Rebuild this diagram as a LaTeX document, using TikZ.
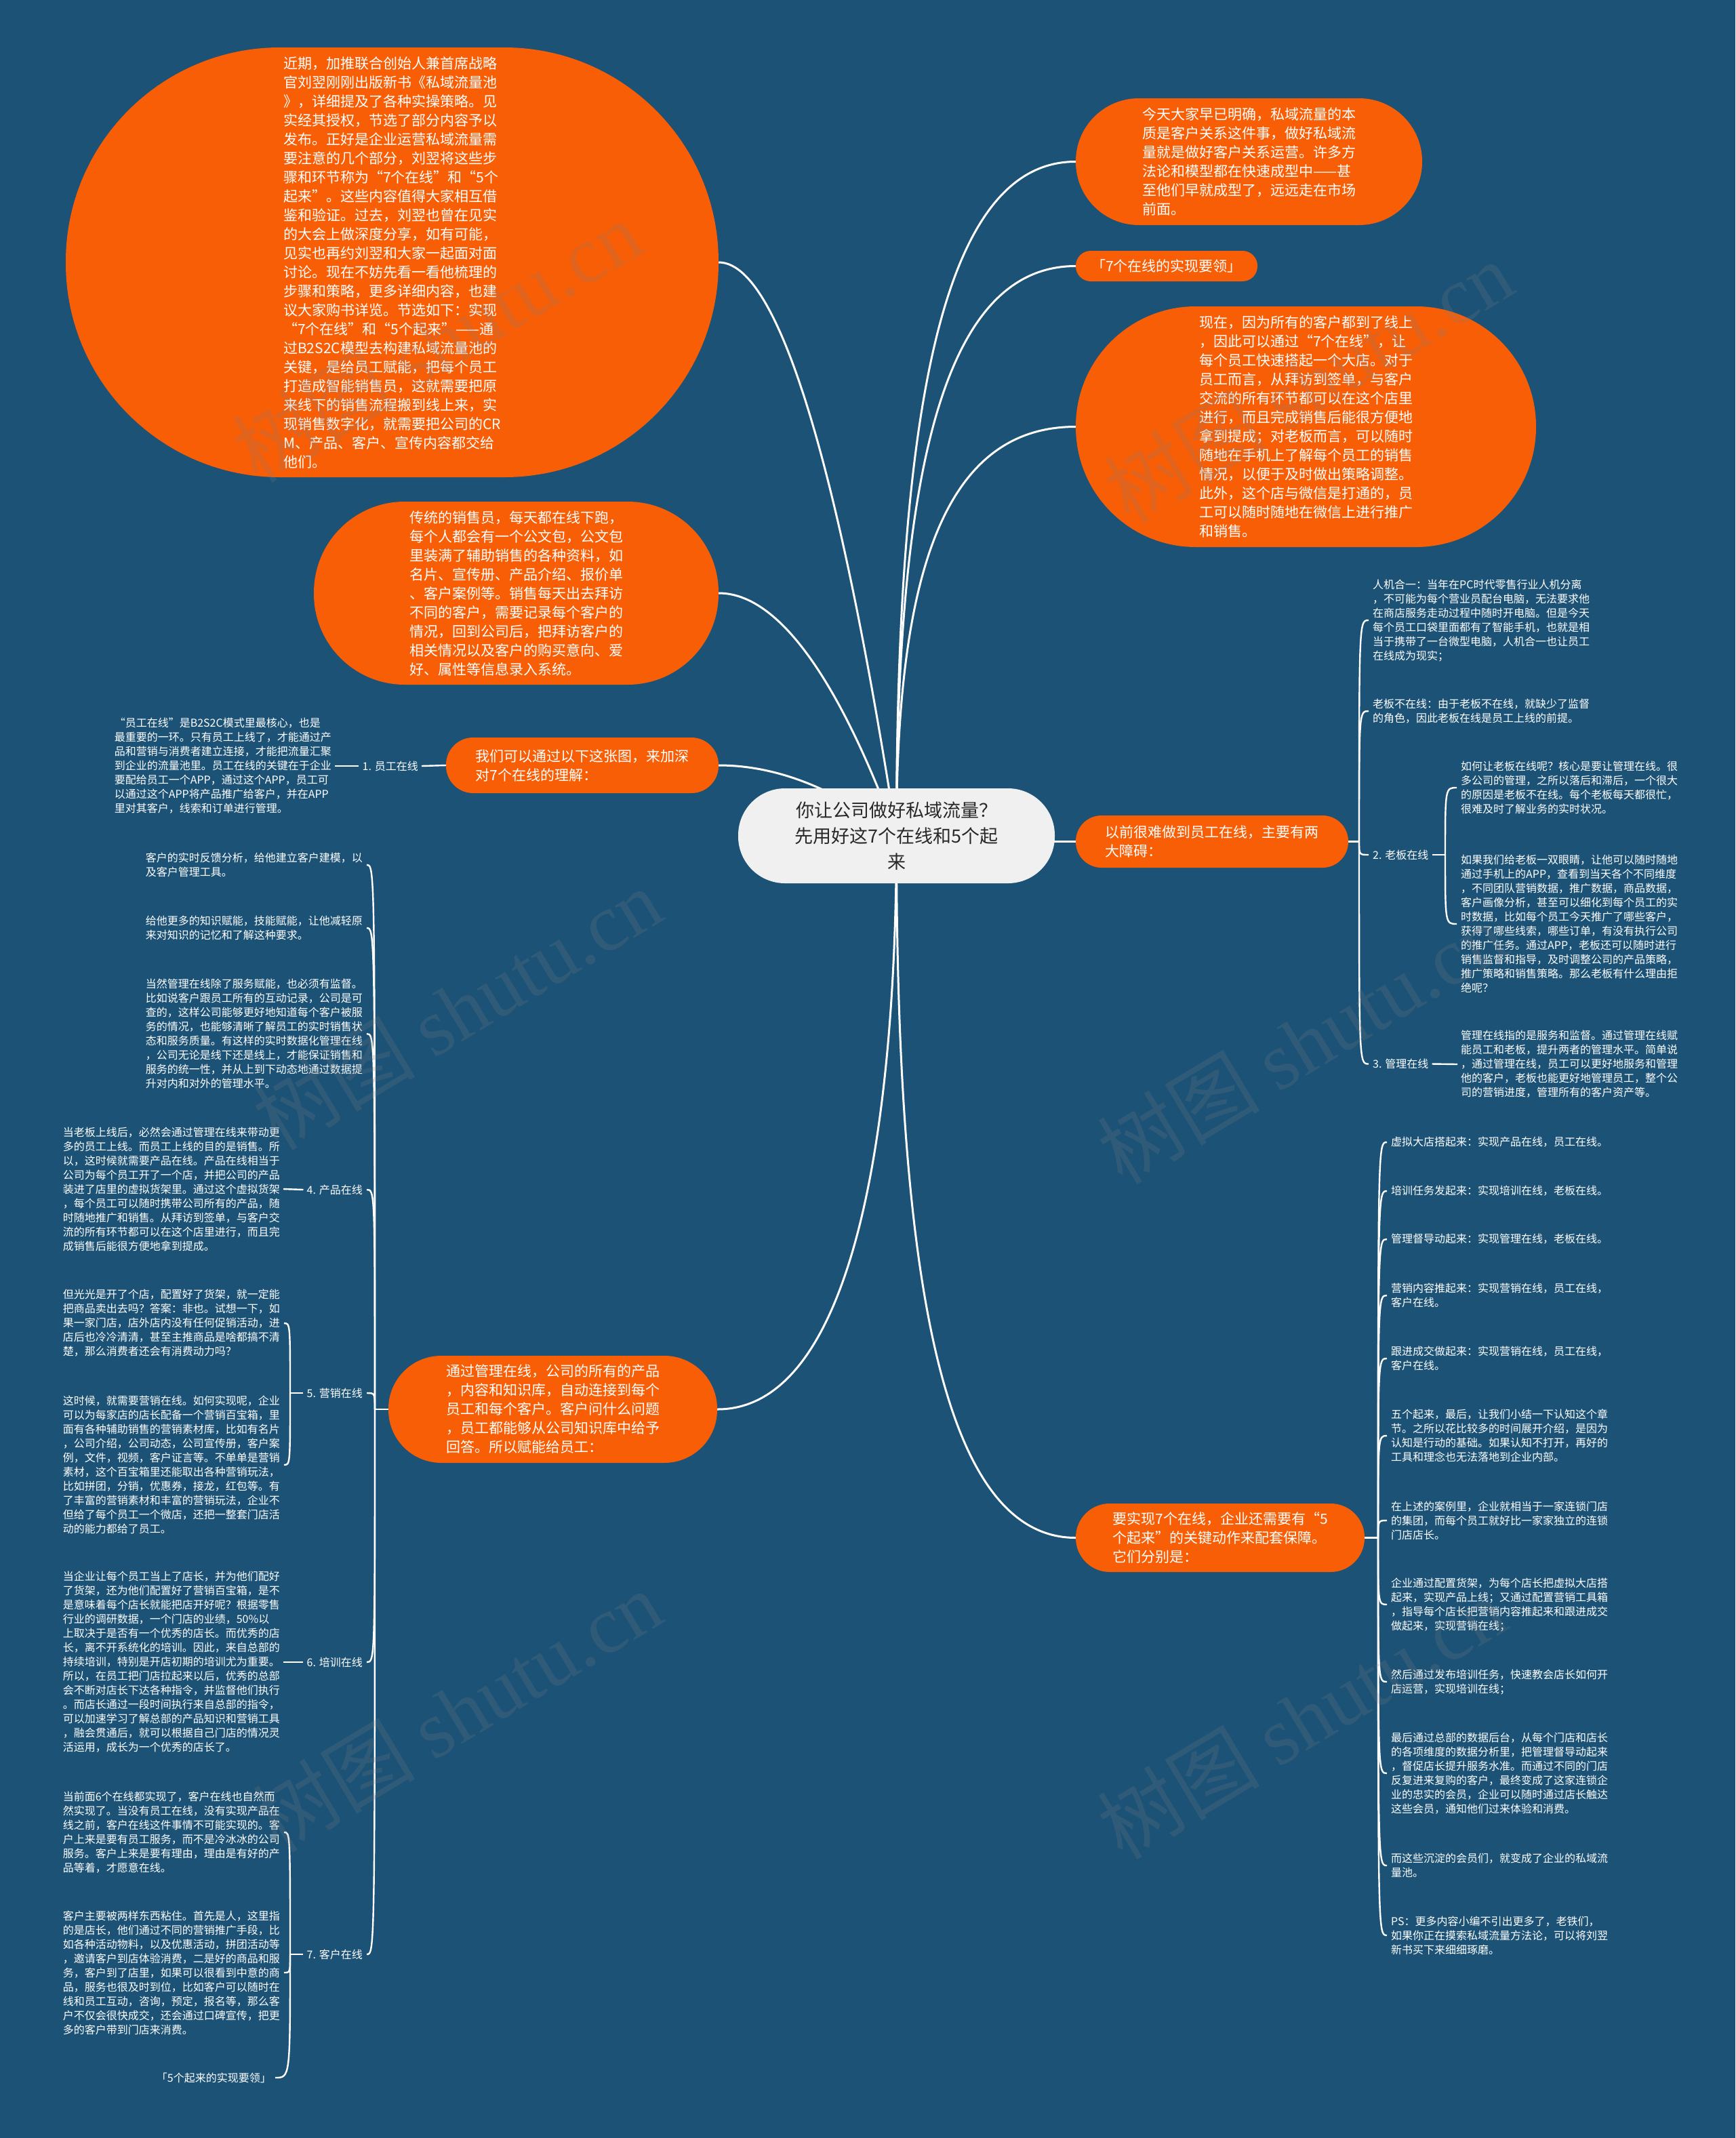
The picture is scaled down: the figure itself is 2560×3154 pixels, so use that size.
\documentclass[tikz,border=0pt]{standalone}
\usepackage{fontspec}
\setmainfont{Noto Sans CJK SC}
\newfontfamily\wmlatin{Liberation Serif}
\usetikzlibrary{calc,backgrounds}
\definecolor{bgblue}{RGB}{27,82,118}
\definecolor{orng}{RGB}{248,94,5}
\definecolor{rootfill}{RGB}{240,240,240}
\definecolor{roottext}{RGB}{40,40,40}
\tikzset{
  obox/.style={fill=orng, text=white, font=\fontsize{21}{28}\selectfont, align=left, inner sep=0pt},
  rbox/.style={fill=rootfill, text=roottext, font=\fontsize{27}{38}\selectfont, align=center, inner sep=0pt},
  leaf/.style={text=white, font=\fontsize{16}{21}\selectfont, align=left, inner sep=0pt},
  link/.style={draw=white, line width=3pt},
  twig/.style={draw=white, line width=2.4pt},
  wm/.style={text=gray, text opacity=0.2, rotate=31, font=\fontsize{120}{120}\selectfont}
}
\begin{document}
\begin{tikzpicture}[x=1pt,y=-1pt]
\useasboundingbox (0,0) rectangle (2560,3154);

% ---------- main nodes ----------
\node[obox, minimum width=963pt, minimum height=634pt, rounded corners=316pt] (intro) at (578.5,387) {近期，加推联合创始人兼首席战略\\官刘翌刚刚出版新书《私域流量池\\》，详细提及了各种实操策略。见\\实经其授权，节选了部分内容予以\\发布。正好是企业运营私域流量需\\要注意的几个部分，刘翌将这些步\\骤和环节称为“7个在线”和“5个\\起来”。这些内容值得大家相互借\\鉴和验证。过去，刘翌也曾在见实\\的大会上做深度分享，如有可能，\\见实也再约刘翌和大家一起面对面\\讨论。现在不妨先看一看他梳理的\\步骤和策略，更多详细内容，也建\\议大家购书详览。节选如下：实现\\“7个在线”和“5个起来”——通\\过B2S2C模型去构建私域流量池的\\关键，是给员工赋能，把每个员工\\打造成智能销售员，这就需要把原\\来线下的销售流程搬到线上来，实\\现销售数字化，就需要把公司的CR\\M、产品、客户、宣传内容都交给\\他们。};

\node[obox, minimum width=511pt, minimum height=187pt, rounded corners=93pt] (jintian) at (1842.5,238.5) {今天大家早已明确，私域流量的本\\质是客户关系这件事，做好私域流\\量就是做好客户关系运营。许多方\\法论和模型都在快速成型中——甚\\至他们早就成型了，远远走在市场\\前面。};

\node[obox, minimum width=268pt, minimum height=45pt, rounded corners=22pt] (qige) at (1721,392.5) {「7个在线的实现要领」};

\node[obox, minimum width=679pt, minimum height=355pt, rounded corners=177pt] (xianzai) at (1926.5,629.5) {现在，因为所有的客户都到了线上\\，因此可以通过“7个在线”，让\\每个员工快速搭起一个大店。对于\\员工而言，从拜访到签单，与客户\\交流的所有环节都可以在这个店里\\进行，而且完成销售后能很方便地\\拿到提成；对老板而言，可以随时\\随地在手机上了解每个员工的销售\\情况，以便于及时做出策略调整。\\此外，这个店与微信是打通的，员\\工可以随时随地在微信上进行推广\\和销售。};

\node[obox, minimum width=597pt, minimum height=270pt, rounded corners=134pt] (chuantong) at (761.5,875) {传统的销售员，每天都在线下跑，\\每个人都会有一个公文包，公文包\\里装满了辅助销售的各种资料，如\\名片、宣传册、产品介绍、报价单\\、客户案例等。销售每天出去拜访\\不同的客户，需要记录每个客户的\\情况，回到公司后，把拜访客户的\\相关情况以及客户的购买意向、爱\\好、属性等信息录入系统。};

\node[obox, minimum width=402pt, minimum height=82pt, rounded corners=40pt] (women) at (859,1129) {我们可以通过以下这张图，来加深\\对7个在线的理解：};

\node[rbox, minimum width=467pt, minimum height=140pt, rounded corners=69pt] (root) at (1322.5,1233) {你让公司做好私域流量？\\先用好这7个在线和5个起\\来};

\node[obox, minimum width=402pt, minimum height=77pt, rounded corners=38pt] (yiqian) at (1788,1241.5) {以前很难做到员工在线，主要有两\\大障碍：};

\node[obox, minimum width=485pt, minimum height=158pt, rounded corners=78pt] (guanli) at (815.5,2079) {通过管理在线，公司的所有的产品\\，内容和知识库，自动连接到每个\\员工和每个客户。客户问什么问题\\，员工都能够从公司知识库中给予\\回答。所以赋能给员工：};

\node[obox, minimum width=426pt, minimum height=101pt, rounded corners=50pt] (yaoshi) at (1800,2268.5) {要实现7个在线，企业还需要有“5\\个起来”的关键动作来配套保障。\\它们分别是：};

% ---------- right upper leaves ----------
\node[leaf, anchor=west] (renji) at (2025,915) {人机合一：当年在PC时代零售行业人机分离\\，不可能为每个营业员配台电脑，无法要求他\\在商店服务走动过程中随时开电脑。但是今天\\每个员工口袋里面都有了智能手机，也就是相\\当于携带了一台微型电脑，人机合一也让员工\\在线成为现实；};
\node[leaf, anchor=west] (lbbz) at (2025,1049) {老板不在线：由于老板不在线，就缺少了监督\\的角色，因此老板在线是员工上线的前提。};
\node[leaf, anchor=west] (ltwo) at (2025,1261) {2. 老板在线};
\node[leaf, anchor=west] (ruhe) at (2155,1162) {如何让老板在线呢？核心是要让管理在线。很\\多公司的管理，之所以落后和滞后，一个很大\\的原因是老板不在线。每个老板每天都很忙，\\很难及时了解业务的实时状况。};
\node[leaf, anchor=west] (ruguo) at (2155,1363) {如果我们给老板一双眼睛，让他可以随时随地\\通过手机上的APP，查看到当天各个不同维度\\，不同团队营销数据，推广数据，商品数据，\\客户画像分析，甚至可以细化到每个员工的实\\时数据，比如每个员工今天推广了哪些客户，\\获得了哪些线索，哪些订单，有没有执行公司\\的推广任务。通过APP，老板还可以随时进行\\销售监督和指导，及时调整公司的产品策略，\\推广策略和销售策略。那么老板有什么理由拒\\绝呢？};
\node[leaf, anchor=west] (lthree) at (2025,1569.5) {3. 管理在线};
\node[leaf, anchor=west] (glzx) at (2155,1570) {管理在线指的是服务和监督。通过管理在线赋\\能员工和老板，提升两者的管理水平。简单说\\，通过管理在线，员工可以更好地服务和管理\\他的客户，老板也能更好地管理员工，整个公\\司的营销进度，管理所有的客户资产等。};

% ---------- right lower leaves ----------
\node[leaf, anchor=west] (ra) at (2052,1685) {虚拟大店搭起来：实现产品在线，员工在线。};
\node[leaf, anchor=west] (rb) at (2052,1757) {培训任务发起来：实现培训在线，老板在线。};
\node[leaf, anchor=west] (rc) at (2052,1828) {管理督导动起来：实现管理在线，老板在线。};
\node[leaf, anchor=west] (rd) at (2052,1911) {营销内容推起来：实现营销在线，员工在线，\\客户在线。};
\node[leaf, anchor=west] (re) at (2052,2004) {跟进成交做起来：实现营销在线，员工在线，\\客户在线。};
\node[leaf, anchor=west] (rf) at (2052,2118) {五个起来，最后，让我们小结一下认知这个章\\节。之所以花比较多的时间展开介绍，是因为\\认知是行动的基础。如果认知不打开，再好的\\工具和理念也无法落地到企业内部。};
\node[leaf, anchor=west] (rg) at (2052,2243) {在上述的案例里，企业就相当于一家连锁门店\\的集团，而每个员工就好比一家家独立的连锁\\门店店长。};
\node[leaf, anchor=west] (rh) at (2052,2367) {企业通过配置货架，为每个店长把虚拟大店搭\\起来，实现产品上线；又通过配置营销工具箱\\，指导每个店长把营销内容推起来和跟进成交\\做起来，实现营销在线；};
\node[leaf, anchor=west] (ri) at (2052,2481) {然后通过发布培训任务，快速教会店长如何开\\店运营，实现培训在线；};
\node[leaf, anchor=west] (rj) at (2052,2616) {最后通过总部的数据后台，从每个门店和店长\\的各项维度的数据分析里，把管理督导动起来\\，督促店长提升服务水准。而通过不同的门店\\反复进来复购的客户，最终变成了这家连锁企\\业的忠实的会员，企业可以随时通过店长触达\\这些会员，通知他们过来体验和消费。};
\node[leaf, anchor=west] (rk) at (2052,2752) {而这些沉淀的会员们，就变成了企业的私域流\\量池。};
\node[leaf, anchor=west] (rl) at (2052,2855) {PS：更多内容小编不引出更多了，老铁们，\\如果你正在摸索私域流量方法论，可以将刘翌\\新书买下来细细琢磨。};

% ---------- left leaves ----------
\node[leaf, anchor=east] (lone) at (617,1130) {1. 员工在线};
\node[leaf, anchor=east] (yg) at (489,1130) {“员工在线”是B2S2C模式里最核心，也是\\最重要的一环。只有员工上线了，才能通过产\\品和营销与消费者建立连接，才能把流量汇聚\\到企业的流量池里。员工在线的关键在于企业\\要配给员工一个APP，通过这个APP，员工可\\以通过这个APP将产品推广给客户，并在APP\\里对其客户，线索和订单进行管理。};

\node[leaf, anchor=east] (ka) at (535,1276) {客户的实时反馈分析，给他建立客户建模，以\\及客户管理工具。};
\node[leaf, anchor=east] (kb) at (535,1369) {给他更多的知识赋能，技能赋能，让他减轻原\\来对知识的记忆和了解这种要求。};
\node[leaf, anchor=east] (kc) at (535,1525) {当然管理在线除了服务赋能，也必须有监督。\\比如说客户跟员工所有的互动记录，公司是可\\查的，这样公司能够更好地知道每个客户被服\\务的情况，也能够清晰了解员工的实时销售状\\态和服务质量。有这样的实时数据化管理在线\\，公司无论是线下还是线上，才能保证销售和\\服务的统一性，并从上到下动态地通过数据提\\升对内和对外的管理水平。};

\node[leaf, anchor=east] (lfour) at (535,1755) {4. 产品在线};
\node[leaf, anchor=east] (cp) at (413,1754) {当老板上线后，必然会通过管理在线来带动更\\多的员工上线。而员工上线的目的是销售。所\\以，这时候就需要产品在线。产品在线相当于\\公司为每个员工开了一个店，并把公司的产品\\装进了店里的虚拟货架里。通过这个虚拟货架\\，每个员工可以随时携带公司所有的产品，随\\时随地推广和销售。从拜访到签单，与客户交\\流的所有环节都可以在这个店里进行，而且完\\成销售后能很方便地拿到提成。};

\node[leaf, anchor=east] (lfive) at (535,2055) {5. 营销在线};
\node[leaf, anchor=east] (yxa) at (413,1952) {但光光是开了个店，配置好了货架，就一定能\\把商品卖出去吗？答案：非也。试想一下，如\\果一家门店，店外店内没有任何促销活动，进\\店后也冷冷清清，甚至主推商品是啥都搞不清\\楚，那么消费者还会有消费动力吗？};
\node[leaf, anchor=east] (yxb) at (413,2161) {这时候，就需要营销在线。如何实现呢，企业\\可以为每家店的店长配备一个营销百宝箱，里\\面有各种辅助销售的营销素材库，比如有名片\\，公司介绍，公司动态，公司宣传册，客户案\\例，文件，视频，客户证言等。不单单是营销\\素材，这个百宝箱里还能取出各种营销玩法，\\比如拼团，分销，优惠券，接龙，红包等。有\\了丰富的营销素材和丰富的营销玩法，企业不\\但给了每个员工一个微店，还把一整套门店活\\动的能力都给了员工。};

\node[leaf, anchor=east] (lsix) at (535,2452) {6. 培训在线};
\node[leaf, anchor=east] (px) at (413,2452) {当企业让每个员工当上了店长，并为他们配好\\了货架，还为他们配置好了营销百宝箱，是不\\是意味着每个店长就能把店开好呢？根据零售\\行业的调研数据，一个门店的业绩，50\%以\\上取决于是否有一个优秀的店长。而优秀的店\\长，离不开系统化的培训。因此，来自总部的\\持续培训，特别是开店初期的培训尤为重要。\\所以，在员工把门店拉起来以后，优秀的总部\\会不断对店长下达各种指令，并监督他们执行\\。而店长通过一段时间执行来自总部的指令，\\可以加速学习了解总部的产品知识和营销工具\\，融会贯通后，就可以根据自己门店的情况灵\\活运用，成长为一个优秀的店长了。};

\node[leaf, anchor=east] (lseven) at (535,2883) {7. 客户在线};
\node[leaf, anchor=east] (kha) at (413,2703) {当前面6个在线都实现了，客户在线也自然而\\然实现了。当没有员工在线，没有实现产品在\\线之前，客户在线这件事情不可能实现的。客\\户上来是要有员工服务，而不是冷冰冰的公司\\服务。客户上来是要有理由，理由是有好的产\\品等着，才愿意在线。};
\node[leaf, anchor=east] (khb) at (413,2910) {客户主要被两样东西粘住。首先是人，这里指\\的是店长，他们通过不同的营销推广手段，比\\如各种活动物料，以及优惠活动，拼团活动等\\，邀请客户到店体验消费，二是好的商品和服\\务，客户到了店里，如果可以很看到中意的商\\品，服务也很及时到位，比如客户可以随时在\\线和员工互动，咨询，预定，报名等，那么客\\户不仅会很快成交，还会通过口碑宣传，把更\\多的客户带到门店来消费。};
\node[leaf, anchor=east] (khc) at (400,3065) {「5个起来的实现要领」};

% ---------- connectors (behind nodes) ----------
\begin{pgfonlayer}{background}
\fill[bgblue] (0,0) rectangle (2560,3154);
% from root
\draw[link] (root.center) .. controls (1322,586) and (1395,238) .. (jintian.west);
\draw[link] (root.center) .. controls (1322,686) and (1395,392.5) .. (qige.west);
\draw[link] (root.center) .. controls (1322,841) and (1395,629.5) .. (xianzai.west);
\draw[link] (root.center) -- (root.center |- yiqian.west) -- (yiqian.west);
\draw[link] (root.center) .. controls (1322,1906) and (1395,2268.5) .. (yaoshi.west);
\draw[link] (root.center) .. controls (1257,810) and (1165,387) .. (intro.east);
\draw[link] (root.center) .. controls (1257,1054) and (1165,875) .. (chuantong.east);
\draw[link] (root.center) .. controls (1257,1181) and (1165,1129) .. (women.east);
\draw[link] (root.center) .. controls (1322,1698) and (1250,2079) .. (guanli.east);

% right upper bracket
\draw[twig] (yiqian.east) -- (2005,1241.5) coordinate (jA);
\foreach \n in {renji,lbbz,ltwo,lthree}
  \draw[twig] (jA) .. controls (jA |- \n.west) .. ($(\n.west)+(-6,0)$);
\draw[twig] ($(ltwo.east)+(5,0)$) -- (2132,1261) coordinate (jB);
\foreach \n in {ruhe,ruguo}
  \draw[twig] (jB) .. controls (jB |- \n.west) .. ($(\n.west)+(-6,0)$);
\draw[twig] ($(lthree.east)+(5,0)$) -- ($(glzx.west)+(-5,0)$);

% right lower bracket
\draw[twig] (yaoshi.east) -- (2033,2268.5) coordinate (jR);
\foreach \n in {ra,rb,rc,rd,re,rf,rg,rh,ri,rj,rk,rl}
  \draw[twig] (jR) .. controls (jR |- \n.west) .. ($(\n.west)+(-6,0)$);

% left: label 1
\draw[twig] (women.west) -- ($(lone.east)+(5,0)$);
\draw[twig] ($(lone.west)+(-5,0)$) -- ($(yg.east)+(5,0)$);

% left main bracket
\draw[twig] (guanli.west) -- (553,2079) coordinate (jL);
\foreach \n in {ka,kb,kc,lfour,lfive,lsix,lseven}
  \draw[twig] (jL) .. controls (jL |- \n.east) .. ($(\n.east)+(6,0)$);
\draw[twig] ($(lfour.west)+(-5,0)$) -- ($(cp.east)+(5,0)$);
\draw[twig] ($(lsix.west)+(-5,0)$) -- ($(px.east)+(5,0)$);
\draw[twig] ($(lfive.west)+(-5,0)$) -- (428,2055) coordinate (jF);
\foreach \n in {yxa,yxb}
  \draw[twig] (jF) .. controls (jF |- \n.east) .. ($(\n.east)+(6,0)$);
\draw[twig] ($(lseven.west)+(-5,0)$) -- (428,2883) coordinate (jS);
\foreach \n in {kha,khb,khc}
  \draw[twig] (jS) .. controls (jS |- \n.east) .. ($(\n.east)+(6,0)$);
\end{pgfonlayer}

% ---------- watermarks ----------
\node[wm] (wma) at (644,503) {树图 {\wmlatin shutu.cn}};
\node[wm] (wmb) at (1930,563) {树图 {\wmlatin shutu.cn}};
\node[wm] (wmc) at (674,1488) {树图 {\wmlatin shutu.cn}};
\node[wm] (wmd) at (1920,1538) {树图 {\wmlatin shutu.cn}};
\node[wm] (wme) at (674,2524) {树图 {\wmlatin shutu.cn}};
\node[wm] (wmf) at (1920,2534) {树图 {\wmlatin shutu.cn}};
\end{tikzpicture}
\end{document}
